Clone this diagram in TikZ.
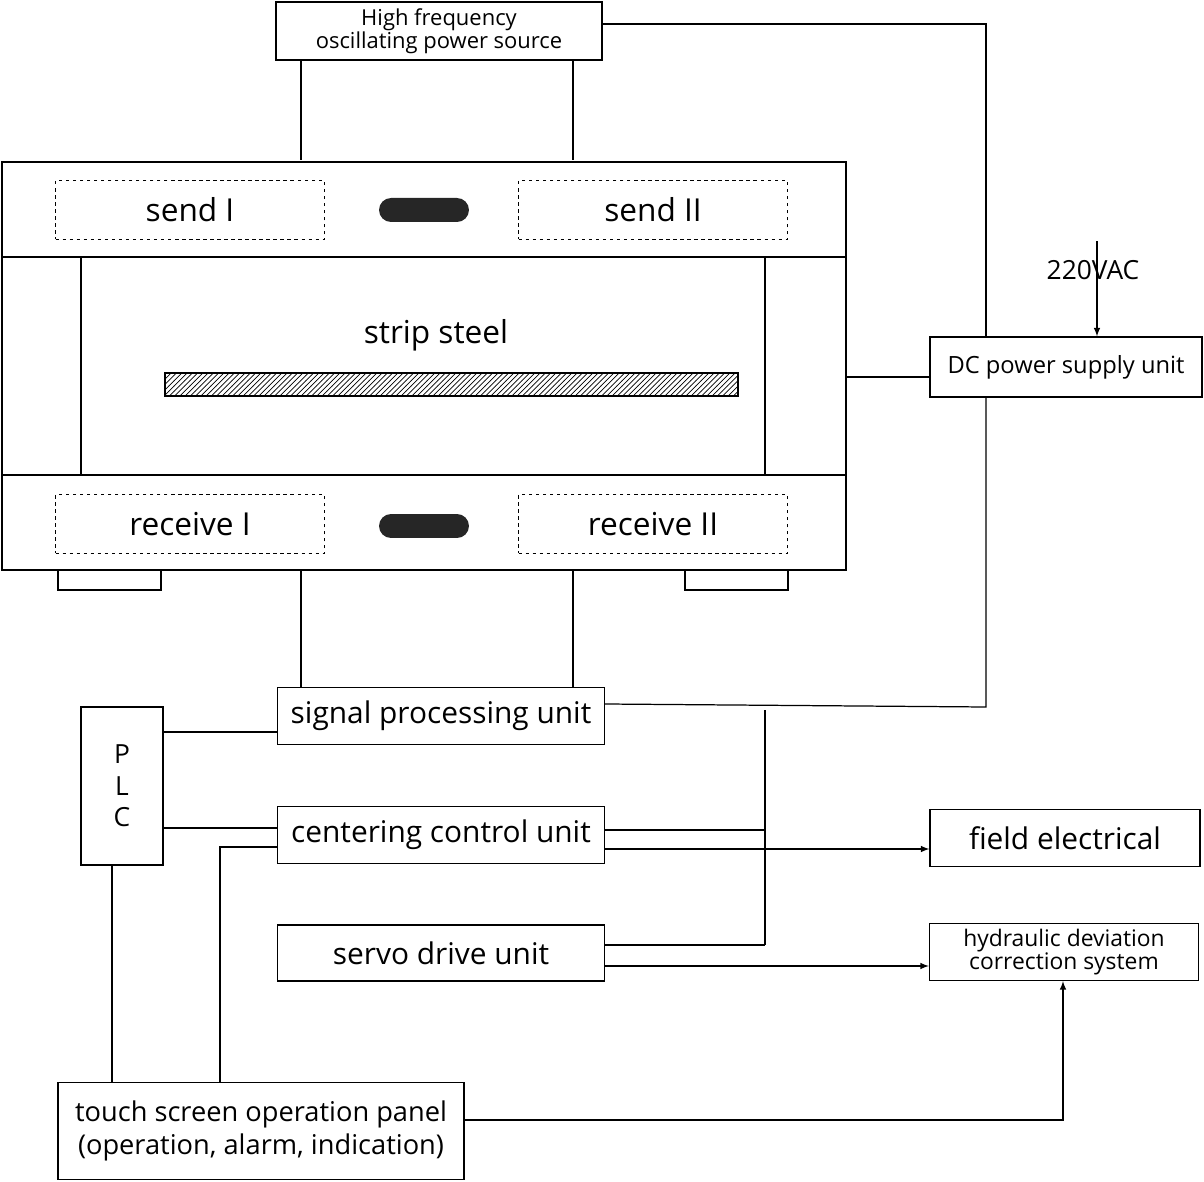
\documentclass[tikz,border=0pt]{standalone}
\usepackage{fontspec}
\setmainfont{Open Sans}
\usetikzlibrary{patterns}
\usetikzlibrary{calc}

\begin{document}
\begin{tikzpicture}[
        >=latex, x=0.02cm, y=-0.02cm, line width=0.7pt,
        box/.style={draw, inner sep=0pt, align=center},
        dbox/.style={draw, dash pattern=on 2pt off 2pt, inner sep=0pt},
        pill/.style={fill=black!85, rounded corners=0.24cm, inner sep=0pt},
    ]
    \useasboundingbox (0,0) rectangle (1204,1182);

    % frame of the sensor
    \draw (2,162) rectangle (846,257) coordinate (topfr);
    \draw (2,257) rectangle (846,475);
    \draw (2,475) rectangle (846,570) coordinate (botfr);
    \draw (81,257) -- (81,475);
    \draw (765,257) -- (765,475);
    \draw (58,570) rectangle (161,590);
    \draw (685,570) rectangle (788,590);

    \node[dbox, minimum width=5.38cm, minimum height=1.18cm, font=\fontsize{18}{20}\selectfont] (send1) at (190,210) {send I};
    \node[dbox, minimum width=5.38cm, minimum height=1.18cm, font=\fontsize{18}{20}\selectfont] (send2) at (653,210) {send II};
    \node[dbox, minimum width=5.38cm, minimum height=1.18cm, font=\fontsize{18}{20}\selectfont] (recv1) at (190,524) {receive I};
    \node[dbox, minimum width=5.38cm, minimum height=1.18cm, font=\fontsize{18}{20}\selectfont] (recv2) at (653,524) {receive II};
    \node[pill, minimum width=1.8cm, minimum height=0.48cm] (pill1) at (424,210) {};
    \node[pill, minimum width=1.8cm, minimum height=0.48cm] (pill2) at (424,526) {};

    \node[font=\fontsize{18}{20}\selectfont] (strip) at (436,335) {strip steel};
    \draw[pattern=north east lines] (165,373) rectangle (738,396);

    % units
    \node[box, minimum width=6.52cm, minimum height=1.16cm, font=\fontsize{12.5}{15}\selectfont] (hf) at (439,31) {High frequency\\[-2pt]oscillating power source};
    \node[box, minimum width=5.44cm, minimum height=1.2cm, font=\fontsize{13.5}{16}\selectfont] (dc) at (1066,367) {DC power supply unit};
    \node[font=\fontsize{15}{18}\selectfont] (ac) at (1093,270) {220VAC};
    \node[box, minimum width=6.54cm, minimum height=1.14cm, font=\fontsize{17}{20}\selectfont] (spu) at (441,716) {signal processing unit};
    \node[box, minimum width=1.64cm, minimum height=3.16cm, font=\fontsize{15}{18}\selectfont] (plc) at (122,786) {P\\L\\C};
    \node[box, minimum width=6.54cm, minimum height=1.14cm, font=\fontsize{17}{20}\selectfont] (ccu) at (441,835) {centering control unit};
    \node[box, minimum width=6.54cm, minimum height=1.12cm, font=\fontsize{17}{20}\selectfont] (sdu) at (441,953) {servo drive unit};
    \node[box, minimum width=5.4cm, minimum height=1.14cm, font=\fontsize{17}{20}\selectfont] (fe) at (1065,838) {field electrical};
    \node[box, minimum width=5.38cm, minimum height=1.14cm, font=\fontsize{13}{15}\selectfont] (hyd) at (1064,952) {hydraulic deviation\\[-2pt]correction system};
    \node[box, minimum width=8.12cm, minimum height=1.94cm, font=\fontsize{15.5}{19}\selectfont] (tsp) at (261,1131) {touch screen operation panel\\(operation, alarm, indication)};

    % connectors
    \draw (hf.south -| 301,0) -- (301,160);
    \draw (hf.south -| 573,0) -- (573,160);
    \draw ($(hf.east)+(0,-7)$) -- (986,24) -- (dc.north -| 986,0);
    \draw[->] (ac.south -| dc.north -| 1097,0) ++(0,-45) -- (dc.north -| 1097,0);
    \draw (846,377) -- (dc.west |- 0,377);
    \draw (dc.south -| 986,0) -- (986,707) -- ($(spu.east)+(0,-12)$);
    \draw (301,570) -- (spu.north -| 301,0);
    \draw (573,570) -- (spu.north -| 573,0);
    \draw (plc.east |- 0,732) -- (spu.west |- 0,732);
    \draw (plc.east |- 0,828) -- (ccu.west |- 0,828);
    \draw (765,710) -- (765,945);
    \draw (ccu.east |- 0,830) -- (765,830);
    \draw (sdu.east |- 0,945) -- (765,945);
    \draw[->] (ccu.east |- 0,849) -- (fe.west |- 0,849);
    \draw[->] (sdu.east |- 0,966) -- (hyd.west |- 0,966);
    \draw (plc.south -| 112,0) -- (tsp.north -| 112,0);
    \draw (tsp.north -| 220,0) -- (220,847) -- (ccu.west |- 0,847);
    \draw[->] (tsp.east |- 0,1120) -- (1063,1120) -- (hyd.south -| 1063,0);

    \end{tikzpicture}
\end{document}
